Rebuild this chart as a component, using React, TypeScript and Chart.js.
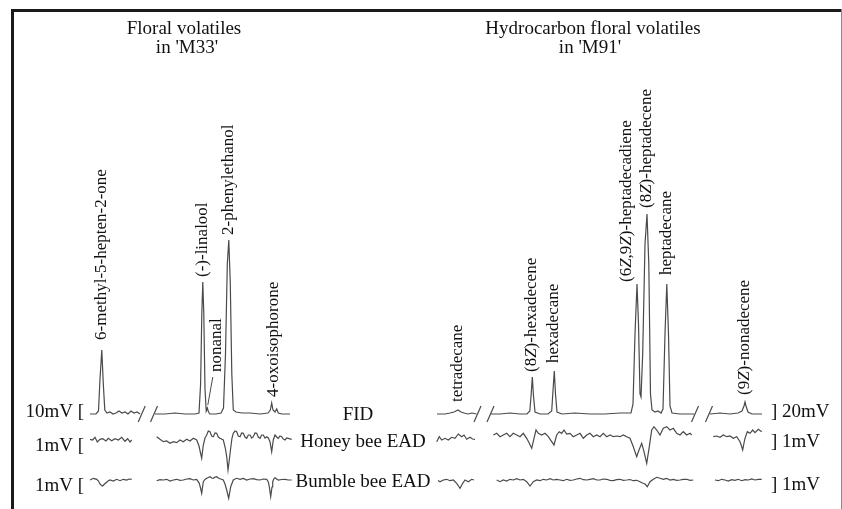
import React, { useEffect, useRef } from "react";
import Chart from "chart.js/auto";

type P = [number, number];

// ---- FID traces (retention index, signal above baseline) ----
const fidM33a: P[] = [[90,0],[96,0],[98.5,3],[100,35],[101.8,64],[103.3,30],[104.8,4],[107,1],[110,2],[113,0],[116,1],[119,3],[122,1],[125,2],[128,0],[131,3],[134,1],[137,2],[140,0]];
const fidM33b: P[] = [[155,0],[165,0],[175,1],[185,0],[195,0],[199,1],[200.6,30],[201.8,100],[202.8,132],[203.8,100],[205,25],[206.2,3],[207.3,6],[208.5,2],[210,0],[216,0],[221,1],[223.5,6],[225.5,60],[227.3,150],[228.8,174],[230.3,130],[231.8,40],[233.3,4],[236,2],[242,1],[250,1],[260,0],[268,1],[270.3,4],[271.7,11],[273,4],[275,2],[276.7,5],[278.3,1],[282,0],[290,0]];
const fidM91a: P[] = [[437,0],[445,0],[450,1],[454,2],[458,4],[461,2],[464,1],[468,0],[472,1],[476.5,0]];
const fidM91b: P[] = [[491,0],[500,0],[510,1],[520,0],[527,0],[529.8,3],[531.2,20],[532.3,37],[533.5,18],[535,2],[540,0],[548,0],[551.7,3],[553.1,25],[554.3,43],[555.5,20],[557,2],[562,0],[575,1],[590,0],[605,0],[620,1],[631,1],[633,10],[635,80],[637,130],[638.5,90],[640,20],[641,17],[642.7,60],[645,170],[647,200],[648.8,150],[650.5,20],[652,4],[655,2],[658,3],[661,1],[663,5],[665,80],[666.8,130],[668.5,80],[670,8],[672,1],[680,0],[694,0]];
const fidM91c: P[] = [[710,0],[720,1],[730,0],[738,1],[742,3],[744,8],[745,12],[746,8],[748,2],[752,0],[762,0]];
const breakTimes = [141.7, 154, 477.5, 490.5, 695, 709];

// ---- Honey bee EAD ----
const honeyM33a: P[] = [[90,0.7],[92.7,0],[95,2.7],[97.3,-2],[100,0.7],[102.7,1.3],[106,-1],[108.3,1.7],[111.7,-0.7],[115,1.3],[118.3,0],[121.7,2.7],[125,-1.3],[127.7,1.3],[130,-2],[131.7,0]];
const honeyM33b: P[] = [[156.7,3.3],[160,0.7],[163.3,-1.7],[166.7,-1],[170,-3.3],[173.3,-1.7],[176.7,-2.7],[180,0],[183.3,-1.7],[186.7,0.7],[190,-1],[193.3,1.7],[196.7,0],[199,-6],[200.3,-12],[201.7,-18.3],[203.3,-5],[205,2],[206.7,5],[208.3,9],[210,8.3],[211.7,4],[213.3,3.3],[215,7],[216.7,6.7],[218.3,3],[220,1.7],[223.3,0],[225.3,-8],[226.7,-16.7],[228,-30],[229.3,-20],[230.7,-8],[232,2],[233.3,6.7],[235,9],[236.7,8.3],[238.3,4],[240,3.3],[241.7,7],[243.3,6.7],[245,3],[246.7,1.7],[248.3,5],[250,5],[251.7,2],[253.3,3.3],[255,7],[256.7,6.7],[258.3,3],[260,1.7],[261.7,5],[263.3,5],[265,2],[266.7,3.3],[268.3,2],[270,-1.7],[271.7,-11.7],[273.3,0],[275,5],[276.7,3],[278.3,1.7],[280,4],[281.7,3.3],[283.3,1],[285,0],[286.7,2],[288.3,1.7],[291.7,0.7]];
const honeyM91a: P[] = [[436.7,-1.7],[439.3,3.3],[441.7,0],[445,1.7],[448.3,0],[451.7,2.7],[455,1.7],[458.3,6],[461.7,3.3],[464,5],[466.7,0.7],[470,2.7],[472.5,1],[475,0.7]];
const honeyM91b: P[] = [[493.3,5],[496.7,6.7],[500,3.3],[503.3,5],[506.7,6.7],[510,3.3],[513.3,6.7],[516.7,5],[520,3.3],[523.3,6.7],[526.7,1.7],[529.3,-3.3],[531.7,-8.3],[534,1.7],[536,10],[538.3,6.7],[541.7,5],[545,6.7],[548.3,3.3],[551.7,-1.7],[554,-5],[556.7,5],[559.3,8.3],[561.7,6.7],[564,10],[566.7,6],[570,6.7],[573.3,3.3],[576.7,5],[580,6.7],[583.3,1.7],[586.7,5],[590,6.7],[593.3,3.3],[596.7,5],[600,3.3],[603.3,6.7],[606.7,3.3],[610,5],[613.3,3.3],[616.7,4],[620,3.3],[623.3,5],[626.7,3.3],[630,1.7],[633.3,-6.7],[636.7,-16.7],[639,-10],[641.7,-3.3],[644,-11.7],[646.7,-23.3],[649.3,-6.7],[651.7,10],[654,13.3],[656.7,10],[660,5],[663.3,11.7],[666.7,13.3],[670,10],[673.3,11.7],[676.7,6.7],[680,5],[683.3,8.3],[686.7,5],[690,6.7],[691.7,5]];
const honeyM91c: P[] = [[713.3,3.3],[716.7,4],[720,2.7],[723.3,5],[726.7,3.3],[730,4],[733.3,1.7],[736.7,3.3],[740,-1.7],[741.5,-6],[742.7,-10],[744,-3],[745,1.7],[747.3,8.3],[750,6.7],[752.7,10],[755,7.3],[758.3,10.7],[761.7,8.3]];

// ---- Bumble bee EAD ----
const bumbleM33a: P[] = [[90,0],[93.3,1.7],[96.7,0.7],[98.5,-1],[100,-4],[101.5,-5.5],[102.7,-6],[104.5,-4],[106,-2.7],[108,-1],[110,0],[113.3,-1],[116.7,0.7],[120,-0.7],[123.3,0.7],[126.7,0],[129,1],[131.7,0.7]];
const bumbleM33b: P[] = [[156.7,-0.7],[160,0.3],[163.3,0],[166.7,0.7],[170,-1],[173.3,0],[176.7,0.7],[180,-0.3],[183.3,0],[186.7,1],[190,1.3],[193.3,0],[196.7,0.7],[199.3,-3.3],[200.5,-8],[201.7,-13.3],[203.3,-1.7],[205,0.5],[206.7,1.7],[208.3,2.5],[210,3.3],[211.7,2],[213.3,1.7],[215,3],[216.7,3.3],[218.3,2],[220,1.3],[223.3,0],[225,-4],[226.7,-10],[228.7,-18.3],[230.7,-6.7],[233.3,0],[235,1],[236.7,1.7],[240,0.7],[243.3,1.5],[246.7,0],[250,1],[253.3,1.3],[256.7,0.3],[260,0],[263.3,1],[266.7,0.7],[268.3,-2],[269.3,-6.7],[270.7,-16.7],[272,-7],[272.7,-1.7],[274,1.5],[275,2.3],[276.7,1],[278.3,0],[281.7,0.5],[285,0.7],[288.3,0],[291.7,0]];
const bumbleM91a: P[] = [[438,-0.5],[440,-1.7],[443.3,0],[446.7,0.7],[450,-0.7],[453.3,0],[456.7,-3.3],[458.5,-6],[460,-8.3],[462.7,-3.3],[465,0],[468.3,-1.7],[471.7,0.7],[474,0]];
const bumbleM91b: P[] = [[496.7,0],[500,-1.7],[503.3,0],[506.7,-1],[510,0.7],[513.3,0],[516.7,1.3],[520,0],[523.3,0.7],[526.7,-1.7],[530,-6],[533.3,-1.7],[536.7,0],[540,-0.7],[543.3,0.7],[546.7,0],[550,1.3],[553.3,0],[556.7,0.7],[560,0],[563.3,-0.7],[566.7,0.7],[570,-0.3],[573.3,0],[576.7,1],[580,1.7],[583.3,0.3],[586.7,0],[590,0.7],[593.3,1.3],[596.7,0],[600,0],[603.3,1],[606.7,0.7],[610,-0.3],[613.3,-0.7],[616.7,0.3],[620,0.7],[623.3,-0.3],[626.7,0],[630,0.5],[633.3,-0.7],[636.7,-0.3],[640,-1.7],[642.5,-3],[645,-4],[647.3,-6.7],[650,-1.7],[653.3,0.7],[656.7,2.7],[660,1.7],[663.3,0.7],[666.7,1.7],[670,0],[673.3,0.7],[676.7,-0.3],[680,0],[683.3,0.7],[686.7,0.7],[690,-0.3],[693.3,0]];
const bumbleM91c: P[] = [[715,0],[718.3,-0.7],[721.7,0.7],[725,0],[728.3,-1],[731.7,0.3],[735,-0.3],[738.3,0.7],[741.7,-0.7],[745,0.3],[748.3,0],[751.7,1],[755,0],[758.3,0.7],[761.7,0.7]];

// ---- Peak annotations ----
const peakNames = ["6-methyl-5-hepten-2-one", "(-)-linalool", "nonanal", "2-phenylethanol", "4-oxoisophorone", "tetradecane", "(8*Z*)-hexadecene", "hexadecane", "(6*Z*,9*Z*)-heptadecadiene", "(8*Z*)-heptadecene", "heptadecane", "(9*Z*)-nonadecene"];
const peakTimes = [101.8, 202.8, 207.3, 228.8, 271.7, 458, 532.3, 554.3, 637, 647, 666.8, 745];
const peakHeights = [64, 132, 6, 174, 11, 4, 37, 43, 130, 200, 130, 12];

// ---- Text ----
const titleLeft = ["Floral volatiles", "in 'M33'"];
const titleRight = ["Hydrocarbon floral volatiles", "in 'M91'"];
const rowLabels = ["FID", "Honey bee EAD", "Bumble bee EAD"];
const leftScaleLabels = ["10mV [", "1mV [", "1mV ["];
const rightScaleLabels = ["] 20mV", "] 1mV", "] 1mV"];

// ---- layout (styles / positions only) ----
const W = 842, H = 509;
const labelLayout: [number, number][] = [[0,10],[0,5],[9,36],[0,5],[1.5,6],[0,8],[-0.5,5],[-1,8],[-10,2],[0,6],[0,9],[0,7]];
const SERIF = '"Liberation Serif", "Times New Roman", serif';
const TRACE = "#4a4a4a";

function join(segs: P[][]) {
  const out: any[] = [];
  segs.forEach((s, i) => {
    if (i) out.push({ x: s[0][0], y: null });
    s.forEach(([x, y]) => out.push({ x, y }));
  });
  return out;
}
function slashes(ts: number[]) {
  const out: any[] = [];
  ts.forEach((t) => {
    out.push({ x: t - 3.5, y: -8 }, { x: t + 3.5, y: 8 }, { x: t + 3.5, y: null });
  });
  return out;
}

function drawRich(ctx: CanvasRenderingContext2D, text: string, x: number, yBottom: number) {
  ctx.save();
  ctx.translate(x, yBottom);
  ctx.rotate(-Math.PI / 2);
  ctx.textAlign = "left";
  ctx.textBaseline = "middle";
  let cx = 0;
  text.split("*").forEach((p, i) => {
    ctx.font = (i % 2 ? "italic " : "") + "17px " + SERIF;
    ctx.fillText(p, cx, 0);
    cx += ctx.measureText(p).width;
  });
  ctx.restore();
}

const annotations = {
  id: "annotations",
  afterDraw(chart: any) {
    const ctx: CanvasRenderingContext2D = chart.ctx;
    const xs = chart.scales.x;
    const yF = chart.scales.yFid, yH = chart.scales.yHB, yB = chart.scales.yBB;
    const rows = [yF.getPixelForValue(0), yH.getPixelForValue(0), yB.getPixelForValue(0)];
    ctx.save();
    // frame
    ctx.fillStyle = "#1a1a1a";
    ctx.fillRect(11, 9, 3, H - 9);
    ctx.fillRect(11, 9, W - 11, 3);
    ctx.fillStyle = "#888";
    ctx.fillRect(841, 9, 1, H - 9);

    ctx.fillStyle = "#111";
    ctx.textBaseline = "alphabetic";
    ctx.font = "19px " + SERIF;
    ctx.textAlign = "center";
    ctx.fillText(titleLeft[0], 184, 34);
    ctx.fillText(titleLeft[1], 187, 53);
    ctx.fillText(titleRight[0], 593, 34);
    ctx.fillText(titleRight[1], 590, 53);

    const midOff = [6, 7, 7];
    rowLabels.forEach((t, i) => ctx.fillText(t, i === 0 ? 358 : 363, rows[i] + midOff[i]));
    ctx.textAlign = "right";
    const lOff = [3, 11, 11];
    leftScaleLabels.forEach((t, i) => ctx.fillText(t, 84, rows[i] + lOff[i]));
    ctx.textAlign = "left";
    const rOff = [3, 7, 10];
    rightScaleLabels.forEach((t, i) => ctx.fillText(t, 771, rows[i] + rOff[i]));

    // peak labels
    peakNames.forEach((name, i) => {
      const px = xs.getPixelForValue(peakTimes[i]);
      const py = yF.getPixelForValue(peakHeights[i]);
      const [dx, gap] = labelLayout[i];
      drawRich(ctx, name, px + dx, py - gap);
    });
    // nonanal leader line
    const nx = xs.getPixelForValue(peakTimes[2]);
    const ny = yF.getPixelForValue(peakHeights[2]);
    ctx.strokeStyle = TRACE;
    ctx.lineWidth = 1;
    ctx.beginPath();
    ctx.moveTo(nx + 0.5, ny - 3);
    ctx.lineTo(nx + 5.5, ny - 31);
    ctx.stroke();
    ctx.restore();
  },
};

export default function App() {
  const ref = useRef<HTMLCanvasElement>(null);
  useEffect(() => {
    const line = { showLine: true, pointRadius: 0, borderColor: TRACE, borderWidth: 1.2, spanGaps: false, tension: 0 };
    const chart = new Chart(ref.current!, {
      type: "scatter",
      data: {
        datasets: [
          { ...line, label: "FID", yAxisID: "yFid", data: join([fidM33a, fidM33b, fidM91a, fidM91b, fidM91c]) },
          { ...line, label: "breaks", yAxisID: "yFid", data: slashes(breakTimes) },
          { ...line, label: "Honey bee EAD", yAxisID: "yHB", data: join([honeyM33a, honeyM33b, honeyM91a, honeyM91b, honeyM91c]) },
          { ...line, label: "Bumble bee EAD", yAxisID: "yBB", data: join([bumbleM33a, bumbleM33b, bumbleM91a, bumbleM91b, bumbleM91c]) },
        ] as any,
      },
      options: {
        animation: false,
        responsive: false,
        layout: { padding: 0 },
        plugins: { legend: { display: false }, tooltip: { enabled: false } },
        scales: {
          x: { type: "linear", min: 0, max: W, display: false },
          yFid: { axis: "y", type: "linear", min: -95, max: 414, display: false },
          yHB: { axis: "y", type: "linear", min: -69, max: 440, display: false },
          yBB: { axis: "y", type: "linear", min: -29, max: 480, display: false },
        } as any,
      },
      plugins: [annotations],
    });
    return () => chart.destroy();
  }, []);
  return (
    <div style={{ position: "absolute", left: 0, top: 0, width: W, height: H, background: "#fff" }}>
      <canvas ref={ref} width={W} height={H} style={{ display: "block", width: W, height: H }} />
    </div>
  );
}
